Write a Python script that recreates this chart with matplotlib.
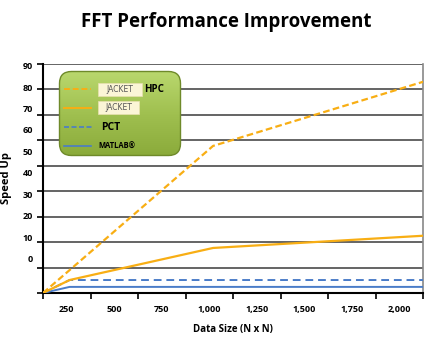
import numpy as np
import matplotlib
matplotlib.use("Agg")
import matplotlib.pyplot as plt
from matplotlib.patches import FancyBboxPatch, Rectangle

# ---- data ----
data_size = [125, 265, 1020, 2125]
jacket_hpc = [0, 9.0, 57.8, 83.0]
jacket = [0, 5.1, 17.7, 22.5]
pct = [0, 5.1, 5.1, 5.1]
matlab = [0, 2.4, 2.4, 2.4]
x_tick_labels = ["250", "500", "750", "1,000", "1,250", "1,500", "1,750", "2,000"]
x_label_pos = [250, 500, 750, 1000, 1250, 1500, 1750, 2000]
y_tick_labels = ["90", "80", "70", "60", "50", "40", "30", "20", "10", "0"]

ORANGE = "#F8AE14"
BLUE = "#4A7CC8"
FONT = "Open Sans"

W, H = 432, 339
fig = plt.figure(figsize=(W / 100, H / 100), dpi=100)
fig.patch.set_facecolor("white")

ax = fig.add_axes([43 / W, 1 - 293 / H, (423 - 43) / W, (293 - 64) / H])
ax.set_xlim(125, 2125)
ax.set_ylim(0, 90)

# gridlines
ax.set_yticks(np.arange(0, 91, 10))
ax.yaxis.grid(True, color="#3a3a3a", lw=1.1)
ax.set_axisbelow(True)
ax.tick_params(axis="y", which="major", direction="out", length=4, width=1.2,
               color="black", labelleft=False)
# labels (as drawn in the reference, compressed relative to the grid)
ylab_pos = np.linspace(89.4, 13.4, len(y_tick_labels))
ax.set_yticks(ylab_pos, minor=True)
ax.set_yticklabels(y_tick_labels, minor=True)
ax.tick_params(axis="y", which="minor", length=0, pad=7, labelsize=6.5)
for t in ax.get_yticklabels(minor=True):
    t.set_fontweight("bold"); t.set_family(FONT)

ax.set_xticks(np.arange(125, 2126, 250))
ax.tick_params(axis="x", which="major", direction="out", length=4, width=1.2,
               color="black", labelbottom=False)
ax.set_xticks(x_label_pos, minor=True)
ax.set_xticklabels(x_tick_labels, minor=True)
ax.tick_params(axis="x", which="minor", length=0, pad=8.5, labelsize=6.5)
for t in ax.get_xticklabels(minor=True):
    t.set_fontweight("bold"); t.set_family(FONT)

for s in ["left", "bottom"]:
    ax.spines[s].set_color("black"); ax.spines[s].set_linewidth(1.5)
ax.spines["right"].set_color("#888888"); ax.spines["right"].set_linewidth(1.2)
ax.spines["top"].set_visible(False)

ax.plot(data_size, matlab, color=BLUE, lw=1.4, zorder=3)
ax.plot(data_size, pct, color=BLUE, lw=1.4, ls=(0, (4, 2.5)), zorder=3)
ax.plot(data_size, jacket, color=ORANGE, lw=1.6, zorder=4)
ax.plot(data_size, jacket_hpc, color=ORANGE, lw=1.6, ls=(0, (3, 1.5)), zorder=4)

ax.set_xlabel("Data Size (N x N)", fontsize=7, fontweight="bold", family=FONT, labelpad=7)
ax.set_ylabel("Speed Up", fontsize=8, fontweight="bold", family=FONT, labelpad=8)

fig.text(226.5 / W, 1 - 22 / H, "FFT Performance Improvement", ha="center", va="center",
         fontsize=13.5, fontweight="bold", family=FONT)

# ---- legend ----
lx0, ly0, lw_, lh_ = 58, 70, 124, 87
lax = fig.add_axes([lx0 / W, 1 - (ly0 + lh_) / H, lw_ / W, lh_ / H])
lax.set_xlim(0, lw_); lax.set_ylim(lh_, 0); lax.axis("off")
box = FancyBboxPatch((1.5, 1.5), lw_ - 3, lh_ - 3, boxstyle="round,pad=0,rounding_size=12",
                     facecolor="none", edgecolor="#6f8a2a", lw=1.0, zorder=2)
lax.add_patch(box)
grad = np.linspace(0, 1, 100).reshape(-1, 1)
cmap = matplotlib.colors.LinearSegmentedColormap.from_list("g", ["#bad86e", "#a0c050", "#8aaa3a"])
im = lax.imshow(grad, cmap=cmap, extent=(0, lw_, lh_, 0), aspect="auto", zorder=1)
im.set_clip_path(box)

def cream(x, y, w, h):
    lax.add_patch(Rectangle((x, y), w, h, facecolor="#fbf5d6", edgecolor="#e8e0b0", lw=0.5, zorder=3))
    lax.text(x + w / 2, y + h / 2 + 0.5, "JACKET", ha="center", va="center", fontsize=5.5,
             color="#555555", family="DejaVu Sans", zorder=4)

# entry 1
lax.plot([6, 33], [19, 19], color=ORANGE, lw=1.4, ls=(0, (3, 1.5)), zorder=3)
cream(40, 13, 44, 13)
lax.text(86, 19.5, "HPC", ha="left", va="center", fontsize=7, fontweight="bold",
         family=FONT, zorder=4)
# entry 2
lax.plot([6, 33], [38, 38], color=ORANGE, lw=1.4, zorder=3)
cream(40, 31, 41, 13)
# entry 3
lax.plot([6, 35], [57, 57], color=BLUE, lw=1.2, ls=(0, (3, 1.5)), zorder=3)
lax.text(43, 57.5, "PCT", ha="left", va="center", fontsize=7.5, fontweight="bold",
         family=FONT, zorder=4)
# entry 4
lax.plot([6, 33], [76, 76], color=BLUE, lw=1.2, zorder=3)
lax.text(40, 76.5, "MATLAB\u00ae", ha="left", va="center", fontsize=5.5, fontweight="bold",
         family=FONT, zorder=4)

fig.savefig("out.png", dpi=100)
